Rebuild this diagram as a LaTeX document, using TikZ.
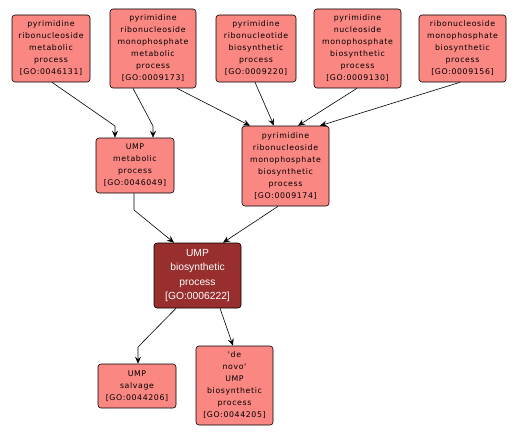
\documentclass[tikz,border=0pt]{standalone}
\usepackage{fontspec}
\setmainfont{Liberation Sans}
\newfontfamily\boxfont[LetterSpace=8]{DejaVu Sans}
\usetikzlibrary{arrows.meta}
\definecolor{light}{RGB}{250,135,130}
\definecolor{dark}{RGB}{153,46,46}
\tikzset{
  term/.style={draw=black, line width=0.6pt, rounded corners=3pt, fill=light, align=center,
    inner sep=0pt, font=\boxfont\fontsize{7.8}{12}\selectfont},
  main/.style={term, fill=dark, text=white, font=\rmfamily\fontsize{10.3}{14.5}\selectfont},
  arr/.style={draw=black, line width=0.6pt, -{Stealth[length=7pt,width=6pt,inset=2.5pt]}}
}
\begin{document}
\begin{tikzpicture}[x=1pt,y=-1pt]
\useasboundingbox[fill=white] (0,0) rectangle (518,436);
\node[term, minimum width=78pt, minimum height=67pt] (n1) at (51,48.5) {pyrimidine\\ribonucleoside\\metabolic\\process\\{[GO:0046131]}};
\node[term, minimum width=86pt, minimum height=79pt] (n2) at (153,48.5) {pyrimidine\\ribonucleoside\\monophosphate\\metabolic\\process\\{[GO:0009173]}};
\node[term, minimum width=80pt, minimum height=67pt] (n3) at (256,48.5) {pyrimidine\\ribonucleotide\\biosynthetic\\process\\{[GO:0009220]}};
\node[term, minimum width=87pt, minimum height=79pt] (n4) at (357.5,48.5) {pyrimidine\\nucleoside\\monophosphate\\biosynthetic\\process\\{[GO:0009130]}};
\node[term, minimum width=87pt, minimum height=67pt] (n5) at (462.5,48.5) {ribonucleoside\\monophosphate\\biosynthetic\\process\\{[GO:0009156]}};
\node[term, minimum width=78pt, minimum height=55pt] (n6) at (135,165.5) {UMP\\metabolic\\process\\{[GO:0046049]}};
\node[term, minimum width=87pt, minimum height=80pt] (n7) at (285.5,166) {pyrimidine\\ribonucleoside\\monophosphate\\biosynthetic\\process\\{[GO:0009174]}};
\node[main, minimum width=87pt, minimum height=65pt] (n8) at (197.5,275.5) {UMP\\biosynthetic\\process\\{[GO:0006222]}};
\node[term, minimum width=78pt, minimum height=44pt] (n9) at (137,386) {UMP\\salvage\\{[GO:0044206]}};
\node[term, minimum width=77pt, minimum height=79pt] (n10) at (234.5,385.5) {'de\\novo'\\UMP\\biosynthetic\\process\\{[GO:0044205]}};

\coordinate (b1) at (115,126);
\coordinate (b2) at (153,126);
\coordinate (b7) at (134,210);
\coordinate (b9) at (138,347);

\draw[arr] ([xshift=1pt]n1.south) -- (b1) -- ([xshift=-20pt]n6.north);
\draw[arr] ([xshift=-20pt]n2.south) -- (b2) -- ([xshift=18pt]n6.north);
\draw[arr] ([xshift=24pt]n2.south) -- ([xshift=-35.5pt]n7.north);
\draw[arr] ([xshift=-1pt]n3.south) -- ([xshift=-11.5pt]n7.north);
\draw[arr] ([xshift=-0.5pt]n4.south) -- ([xshift=12.5pt]n7.north);
\draw[arr] ([xshift=-2.5pt]n5.south) -- ([xshift=34.5pt]n7.north);
\draw[arr] ([xshift=-1pt]n6.south) -- (b7) -- ([xshift=-23.5pt]n8.north);
\draw[arr] ([xshift=-7.5pt]n7.south) -- ([xshift=25.5pt]n8.north);
\draw[arr] ([xshift=-21.5pt]n8.south) -- (b9) -- ([xshift=1pt]n9.north);
\draw[arr] ([xshift=22.5pt]n8.south) -- ([xshift=-1.5pt]n10.north);
\end{tikzpicture}
\end{document}
